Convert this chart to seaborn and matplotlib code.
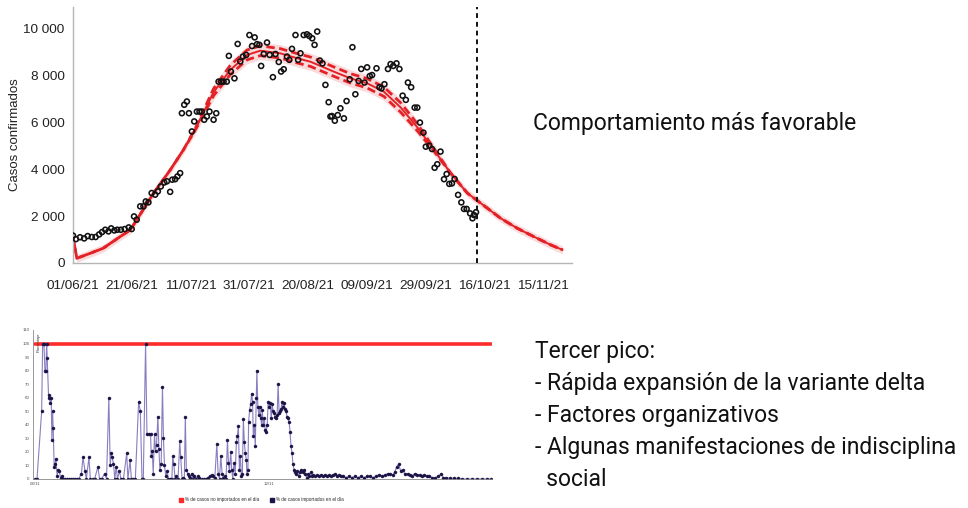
import numpy as np
import matplotlib
matplotlib.use("Agg")
import matplotlib.pyplot as plt
from matplotlib.patches import Patch
import seaborn as sns

# casos confirmados observados (dia desde 01/06/21, casos)
dias_obs = [0, 1.0, 2.4, 3.8, 5.0, 6.4, 7.7, 8.9, 9.9, 11.0, 12.1, 13.0, 14.1, 15.1, 16.3, 17.6,
            19.0, 20.0, 20.8, 21.7, 22.9, 24.0, 24.8, 25.7, 26.8, 28.0, 28.9, 29.9, 31.1, 32.0,
            33.1, 33.8, 34.8, 35.6, 36.5, 37.1, 37.9, 38.8, 39.5, 40.5, 41.3, 42.2, 43.1, 43.9,
            44.7, 45.6, 46.5, 47.9, 48.8, 49.6, 50.5, 51.3, 52.4, 53.1, 53.8, 55.0, 56.1, 57.0,
            57.9, 59.0, 60.1, 61.0, 61.9, 62.7, 63.5, 64.1, 65.0, 66.1, 67.0, 68.1, 69.0, 70.1,
            70.9, 71.8, 72.9, 73.7, 74.6, 75.8, 76.7, 77.5, 78.6, 79.7, 80.5, 81.5, 82.3, 83.2,
            84.1, 85.0, 86.0, 87.1, 87.7,
            88.2, 89.2, 90.2, 91.1, 92.3, 93.2, 94.3, 95.2, 96.2, 97.3, 98.2, 99.3, 100.2, 101.1,
            101.9, 103.4, 104.4, 105.1, 106.1, 107.3, 108.2, 109.1, 110.2, 111.2, 112.3, 113.4,
            114.1, 115.2, 116.4, 117.3, 118.2, 119.4, 120.2, 121.4, 122.3, 123.2, 124.1, 125.2,
            126.4, 127.3, 128.2, 129.1, 130.0, 131.2, 132.3, 133.2, 134.1, 135.3, 136.1, 136.6, 137.3]
casos_obs = [1170, 1020, 1100, 1050, 1150, 1110, 1110, 1220, 1320, 1420, 1350, 1480, 1390, 1420, 1420, 1450,
             1520, 1450, 1990, 1850, 2420, 2420, 2630, 2590, 2990, 2920, 3060, 3270, 3440, 3490,
             3040, 3560, 3580, 3700, 3840, 6400, 6760, 6900, 6400, 5620, 6050, 6470, 6470, 6470,
             6120, 6260, 6470, 6120, 6400, 7750, 7750, 7750, 7750, 8850, 8180, 7890, 9360, 8610,
             8820, 8890, 9740, 9270, 9640, 9350, 9320, 8420, 8930, 9420, 8890, 7940, 8930, 8590,
             8180, 8280, 8820, 8680, 9150, 9740, 8680, 8960, 9740, 9770, 9700, 9600, 9320, 9890,
             8650, 8530, 7610, 6870, 6260,
             6280, 6080, 6320, 6610, 6180, 6920, 7850, 9220, 7210, 7780, 8290, 7710, 8360, 7990,
             8030, 8320, 7510, 7460, 7640, 8290, 8500, 8420, 8530, 8290, 7150, 6970,
             7710, 7510, 6640, 6640, 6000, 5570, 4970, 5010, 4870, 4070, 4220, 4760,
             3580, 3800, 3380, 3400, 3590, 2910, 2590, 2310, 2310, 2120, 1910, 2050, 2170]

# curva del modelo y semiancho de la banda
dias_mod = [0, 1.3, 5.8, 10.3, 16, 19.5, 21.7, 27.4, 33.1, 37.6, 41.6, 47.9, 53.6, 59.3, 63.8, 70.6,
            76.3, 80.9, 88.8, 94.5, 100.2, 105.9, 111.6, 117.3, 123, 128.7, 134.4, 137.5, 145.7,
            151.4, 157.1, 162.8, 166.8]
casos_mod = [1150, 200, 410, 630, 1120, 1410, 1840, 2980, 3970, 4830, 5700, 7300, 8250, 8890, 9070, 8960,
             8750, 8600, 8180, 7890, 7680, 7320, 6650, 5800, 4830, 3830, 2980, 2690, 1910,
             1480, 1120, 770, 560]
banda_mod = [0, 0, 0, 0, 0, 0, 0, 0, 0, 0, 40, 150, 200, 210, 210, 200,
             200, 200, 200, 200, 200, 200, 200, 150, 60, 0, 0, 0, 0,
             0, 0, 0, 0]

tick_dias = [0, 20, 40, 60, 80, 100, 120, 140, 160]
tick_fechas = ["01/06/21", "21/06/21", "11/07/21", "31/07/21", "20/08/21",
               "09/09/21", "29/09/21", "16/10/21", "15/11/21"]
dia_corte = 137.5

# % de casos importados en el dia (grafico inferior)
dias_imp = [0, 2, 6.7, 7.7, 9, 10, 11, 11.7, 12.3, 13.7, 14.3, 15.3, 16.3, 17, 17.7, 18.3, 19.3, 20.3,
            21, 22.3, 23.3, 24.3, 25.7, 27, 28.3, 30, 32, 34, 36, 38, 40, 42, 44, 46.7, 48.3, 50.3,
            51.7, 54.3, 55.7, 58, 60, 63.3, 65, 67, 70, 72, 74.3, 75.7, 76.7, 77.7, 79, 80.3, 81.7,
            83, 85, 86.5, 89, 92.3, 93.5, 95.7, 97, 99, 101, 104.3, 106, 107.7, 109, 111.3, 112.7,
            114.3, 116.3, 117, 118, 119, 120.3, 121.3, 122.3, 123.7, 124.7, 125.7, 127, 128.3, 129.3,
            130.3, 131.7, 133, 134.3, 136, 137.7, 138.7, 139.7, 141, 142.3, 144, 145.7, 146.7, 148,
            149, 150.3, 151.3, 152.3, 153.7, 155, 156.3, 157.7, 159, 160.3, 162, 163.7, 165.5, 167.7,
            170, 172, 173.7, 175.7, 177.7, 179.5, 181, 183, 184.3, 185.7, 187, 188.3, 189.7, 191,
            192.3, 193.7, 194.7, 195.7, 197, 198, 199, 200.3, 201.5, 202.7, 203.7, 204.7, 205.7,
            206.7, 207.7, 208.7, 209.7, 210.7, 211.7, 212.7, 213.3, 214.3, 215, 216, 217, 218, 219,
            219.7, 220.7, 221.7, 222.7, 223.3, 224.3, 225.3, 226.3, 227.3, 228, 228.7, 229.7, 230.7,
            231.7, 232.7, 233.7, 234.7, 235.7, 236.7, 237.7, 238.7, 239.7, 240.7, 241.7, 242.7,
            243.7, 244.7, 245.7, 246.7, 247.7, 248.7, 249.7, 250.7, 251.7, 252.7, 253.7, 254.7,
            255.7, 256.7, 257.7, 258.7, 259.7, 260.7, 261.7, 262.7, 264, 265.3, 266.7, 268, 269.3,
            270.7, 272, 273.3, 274.7, 276, 277.3, 278.7, 280, 282, 284, 286, 288, 290, 292, 294,
            296, 298, 300, 302, 304, 306, 308, 310, 313, 316, 319, 322, 325, 328, 331, 334, 337,
            340, 343, 346, 349, 352, 355, 357, 360, 362, 364, 366, 368, 370, 372, 375, 377, 379,
            382, 384, 387, 390, 392, 395, 397, 400, 403, 406, 409, 411, 414, 418, 422, 426, 430,
            435, 440, 445, 450, 455, 459]
pct_imp = [0, 0, 50, 100, 100, 80, 80, 100, 89, 60, 62, 56, 60, 29, 50, 38, 9, 11,
           15, 2, 7, 6, 1, 2, 0, 0, 0, 0, 0, 0, 0, 0, 0, 4, 16, 6,
           0, 16, 0, 0, 0, 9, 0, 0, 4, 0, 60, 10, 19, 16, 11, 0, 9,
           0, 6, 0, 0, 19, 0, 14, 0, 0, 0, 57, 50, 0, 0, 100, 33,
           33, 33, 17, 21, 4, 33, 21, 25, 46, 22, 7, 11, 68, 30,
           10, 2, 6, 0, 0, 0, 17, 11, 0, 2, 0, 28, 16, 0,
           1, 0, 46, 7, 4, 2, 1, 4, 0, 2, 0, 2, 1, 0,
           0, 0, 1, 2, 3, 2, 1, 26, 4, 0, 17, 4, 1, 2,
           0, 29, 12, 6, 20, 7, 0, 12, 4, 27, 32, 39, 7,
           17, 2, 4, 44, 27, 19, 14, 4, 7, 42, 51, 55, 63, 57,
           32, 40, 24, 60, 80, 53, 47, 53, 45, 40, 51, 40, 45,
           36, 35, 40, 57, 53, 56, 45, 55, 50, 49, 46, 45,
           47, 70, 49, 50, 52, 57, 53, 56, 52, 50, 46, 45,
           42, 35, 24, 19, 11, 7, 5, 4, 6, 2, 5, 7, 5,
           7, 4, 1, 4, 2, 5, 2, 3, 2, 3, 2, 3, 2, 3, 2,
           3, 2, 3, 4, 2, 3, 2, 2, 1, 2, 1, 2, 1, 2, 1, 2, 2,
           1, 2, 3, 2, 3, 4, 4, 3, 5, 9, 11, 6, 7, 4, 4, 3, 2,
           4, 3, 3, 2, 3, 2, 2, 1, 1, 2, 4, 1, 1, 0.5, 0.5, 0.5, 0,
           0, 0, 0, 0, 0, 0]
dias_no_imp = [0, 459]
pct_no_imp = [100, 100]

sns.set_style("white")
plt.rcParams["font.family"] = ["Liberation Sans", "DejaVu Sans"]

fig = plt.figure(figsize=(9.68, 5.08), dpi=100)

# ---- grafico superior
ax = fig.add_axes([0.0754, 0.4823, 0.5155, 0.504])
mod = np.array(casos_mod, dtype=float)
hw = np.array(banda_mod, dtype=float)
rojo = "#e32228"
ax.fill_between(dias_mod, mod - hw - 170, mod + hw + 170, color=rojo, alpha=0.16, lw=0)
sns.lineplot(x=dias_mod, y=mod, color=rojo, lw=1.4, ax=ax)
sns.lineplot(x=dias_mod, y=mod + hw, color=rojo, lw=2.0, ls=(0, (3, 1.6)), ax=ax)
sns.lineplot(x=dias_mod, y=mod - hw, color=rojo, lw=2.0, ls=(1.5, (3, 1.6)), ax=ax)
sns.scatterplot(x=dias_obs, y=casos_obs, s=13, facecolor="none", edgecolor="#111111",
                linewidth=1.15, ax=ax, zorder=5)
ax.axvline(dia_corte, color="#111111", lw=1.4, ls=(0, (2.5, 2)), zorder=6)

ax.set_xlim(0, 170)
ax.set_ylim(0, 10940)
ax.set_xticks(tick_dias)
ax.set_xticklabels(tick_fechas, fontsize=9.7, color="#222222")
ax.set_yticks([0, 2000, 4000, 6000, 8000, 10000])
ax.set_yticklabels(["0", "2 000", "4 000", "6 000", "8 000", "10 000"], fontsize=9.7, color="#222222")
ax.tick_params(axis="x", length=4, color="#b0b0b0", pad=8)
ax.tick_params(axis="y", length=0, pad=6)
ax.set_ylabel("Casos confirmados", fontsize=9.5, color="#222222", labelpad=2)
for side in ["top", "right"]:
    ax.spines[side].set_visible(False)
for side in ["left", "bottom"]:
    ax.spines[side].set_color("#b5b5b5")
    ax.spines[side].set_linewidth(1)

# ---- grafico inferior
ax2 = fig.add_axes([0.0341, 0.0571, 0.4742, 0.2933])
sns.lineplot(x=dias_no_imp, y=pct_no_imp, color="#ff2b2b", lw=2.6, ax=ax2)
sns.lineplot(x=dias_imp, y=pct_imp, color="#8a7dc0", lw=0.8, marker="o", markersize=2.2,
             markerfacecolor="#1c1446", markeredgecolor="#1c1446", markeredgewidth=0.3, ax=ax2)
ax2.set_xlim(-2, 460)
ax2.set_ylim(0, 110)
ax2.set_yticks(range(0, 111, 10))
ax2.set_yticklabels([str(v) for v in range(0, 111, 10)], fontsize=3.2, color="#555555")
ax2.set_xticks([0, 236])
ax2.set_xticklabels(["03/11", "12/11"], fontsize=3.2, color="#555555")
ax2.tick_params(length=1.5, width=0.5, pad=1, color="#888888")
ax2.text(2, 108, "Porcentaje", rotation=90, fontsize=3, color="#333333", ha="left", va="top")
for side in ["top", "right"]:
    ax2.spines[side].set_visible(False)
for side in ["left", "bottom"]:
    ax2.spines[side].set_color("#888888")
    ax2.spines[side].set_linewidth(0.6)
handles = [Patch(color="#ff2b2b", label="% de casos no importados en el día"),
           Patch(color="#1c1446", label="% de casos importados en el día")]
fig.legend(handles=handles, loc="center", bbox_to_anchor=(0.27, 0.016), ncol=2, frameon=False,
           fontsize=3.3, handlelength=0.8, handleheight=0.8, columnspacing=2.5, handletextpad=0.4)

# ---- textos
fuente = ["Roboto", "DejaVu Sans"]
fig.text(533 / 968, 1 - 130 / 508, "Comportamiento más favorable", fontsize=16.5,
         family=fuente, color="#111111", va="baseline")
lineas = ["Tercer pico:", "- Rápida expansión de la variante delta", "- Factores organizativos",
          "- Algunas manifestaciones de indisciplina", "  social"]
for i, t in enumerate(lineas):
    fig.text(535 / 968, 1 - (358 + 31.9 * i) / 508, t, fontsize=16.5, family=fuente,
             color="#111111", va="baseline")

fig.savefig("out.png", dpi=100)
